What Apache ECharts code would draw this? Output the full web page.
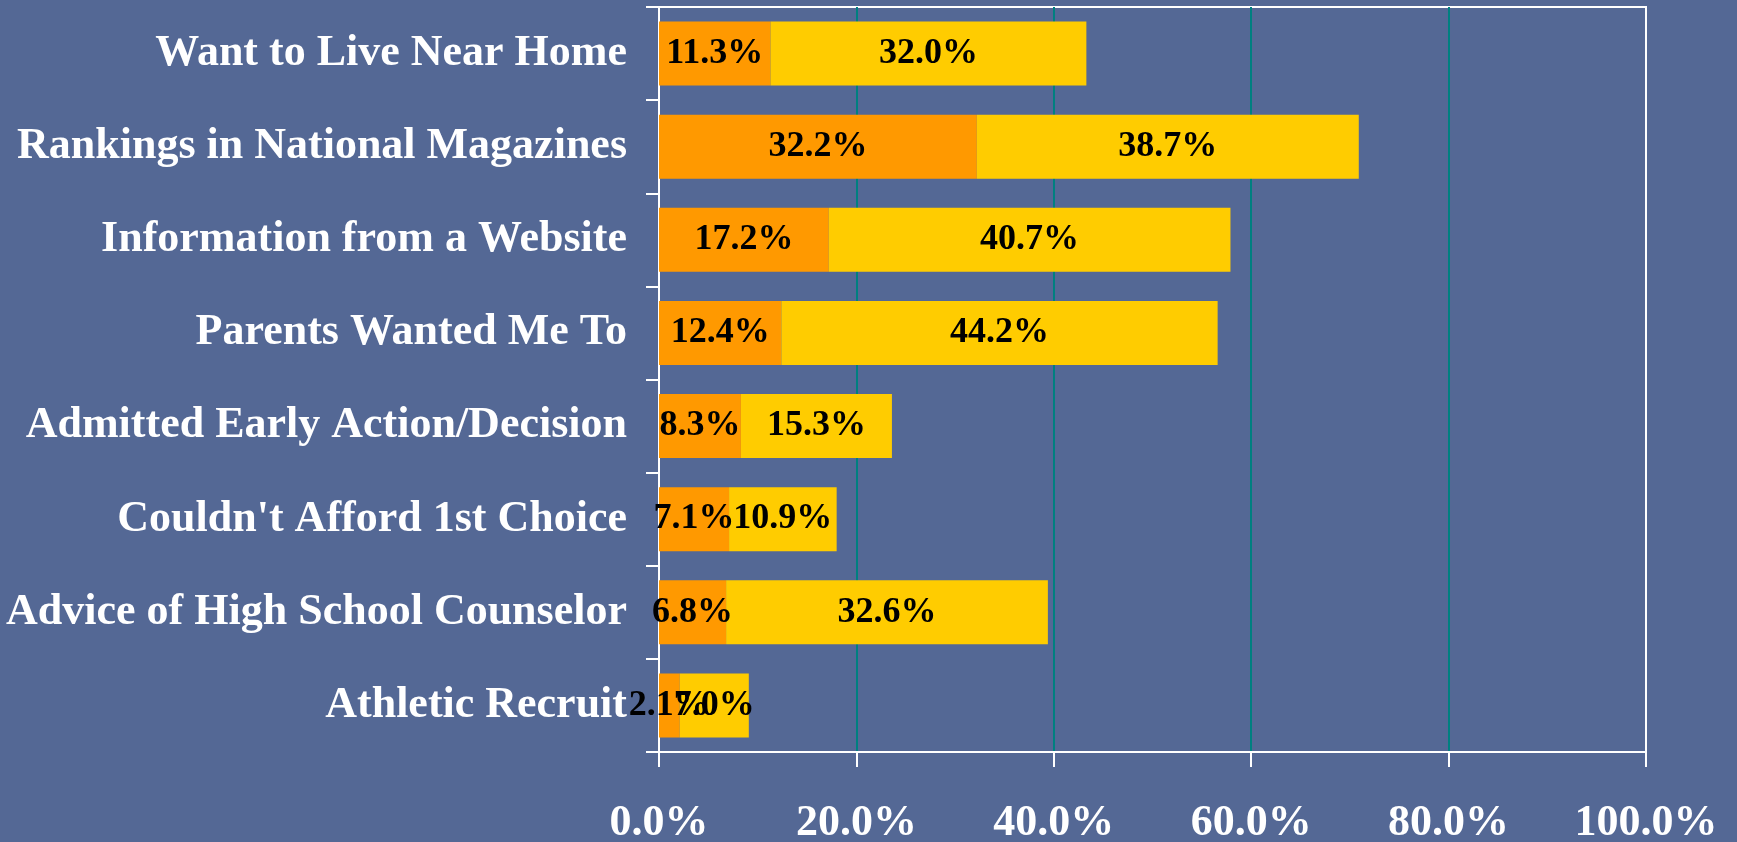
<!DOCTYPE html>
<html>
<head>
<meta charset="utf-8">
<script src="https://cdn.jsdelivr.net/npm/echarts@6/dist/echarts.min.js"></script>
<style>
  html, body { margin: 0; padding: 0; background: #546895; }
  #chart { width: 1737px; height: 842px; }
</style>
</head>
<body>
<div id="chart"></div>
<script>
// categories, top to bottom
const categories = [
  'Want to Live Near Home',
  'Rankings in National Magazines',
  'Information from a Website',
  'Parents Wanted Me To',
  'Admitted Early Action/Decision',
  "Couldn't Afford 1st Choice",
  'Advice of High School Counselor',
  'Athletic Recruit'
]
// orange part
const veryImportant = [11.3, 32.2, 17.2, 12.4, 8.3, 7.1, 6.8, 2.1]
// yellow part
const somewhatImportant = [32.0, 38.7, 40.7, 44.2, 15.3, 10.9, 32.6, 7.0]

const serif = '"Liberation Serif", "Times New Roman", serif'

const pct = v => v.toFixed(1) + '%'

const barLabel = {
  show: true,
  position: 'inside',
  color: '#000',
  fontFamily: serif,
  fontWeight: 'bold',
  fontSize: 36,
  padding: [6, 0, 0, 0],
  formatter: p => pct(p.value)
}

const chart = echarts.init(document.getElementById('chart'))

chart.setOption({
  backgroundColor: '#546895',
  animation: false,
  grid: {
    left: 659,
    right: 91,
    top: 7,
    bottom: 90,
    show: true,
    borderColor: '#fff',
    borderWidth: 2,
    containLabel: false,
    outerBoundsMode: 'none'
  },
  xAxis: {
    type: 'value',
    min: 0,
    max: 100,
    interval: 20,
    axisLine: { show: true, lineStyle: { color: '#fff', width: 2 } },
    axisTick: { show: true, length: 15, lineStyle: { color: '#fff', width: 2 } },
    splitLine: {
      show: true,
      lineStyle: {
        color: ['#fff', '#008080', '#008080', '#008080', '#008080', '#fff'],
        width: 2
      }
    },
    axisLabel: {
      margin: 50,
      color: '#fff',
      fontFamily: serif,
      fontWeight: 'bold',
      fontSize: 44,
      formatter: v => pct(v)
    }
  },
  yAxis: {
    type: 'category',
    inverse: true,
    data: categories,
    axisLine: { show: true, lineStyle: { color: '#fff', width: 2 } },
    axisTick: { show: true, length: 13, lineStyle: { color: '#fff', width: 2 } },
    axisLabel: {
      margin: 32,
      color: '#fff',
      fontFamily: serif,
      fontWeight: 'bold',
      fontSize: 44,
      padding: [7, 0, 0, 0]
    }
  },
  series: [
    {
      name: 'Very Important',
      type: 'bar',
      stack: 'total',
      barWidth: 64,
      itemStyle: { color: '#FF9900' },
      label: barLabel,
      data: veryImportant
    },
    {
      name: 'Somewhat Important',
      type: 'bar',
      stack: 'total',
      barWidth: 64,
      itemStyle: { color: '#FFCC00' },
      label: barLabel,
      data: somewhatImportant
    }
  ]
})
</script>
</body>
</html>
